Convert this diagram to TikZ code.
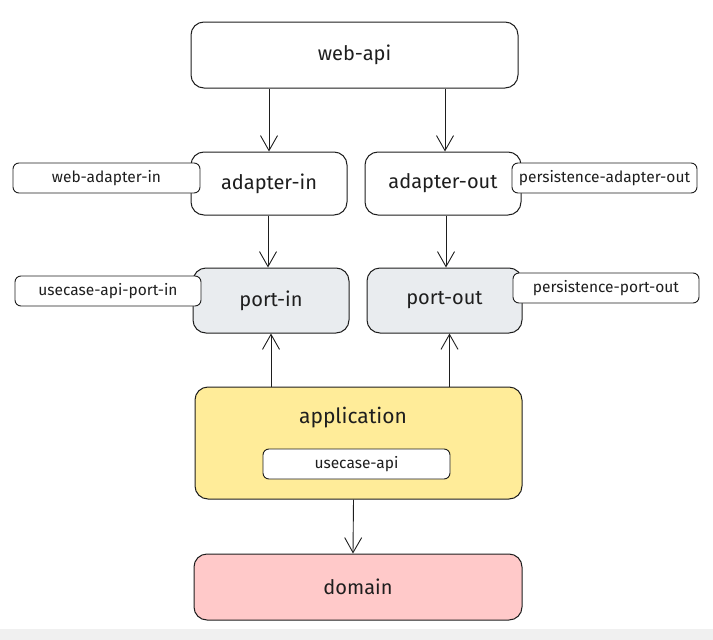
\documentclass[tikz,border=0pt]{standalone}
\usepackage{fontspec}
\setmainfont{Fira Sans}
\usetikzlibrary{arrows.meta}
\definecolor{ink}{HTML}{1E1E1E}
\definecolor{portgray}{HTML}{E9ECEF}
\definecolor{appyellow}{HTML}{FFEC99}
\definecolor{dompink}{HTML}{FFC9C9}
\tikzset{
  box/.style={draw=ink, line width=1pt, rounded corners=13pt, fill=white, inner sep=0pt,
    font=\fontsize{20}{22}\selectfont, text=ink},
  tag/.style={draw=ink, line width=0.9pt, rounded corners=6pt, fill=white, inner sep=0pt,
    minimum height=30pt, font=\fontsize{15.5}{17}\selectfont, text=ink},
  arr/.style={draw=ink, line width=0.9pt, -{Straight Barb[length=15pt,width=17pt,line width=0.9pt]}},
}
\begin{document}
\begin{tikzpicture}[x=1pt,y=-1pt]
\useasboundingbox (0,0) rectangle (713,640);
\fill[black!6] (0,629) rectangle (713,640);
% top
\node[box, minimum width=327pt, minimum height=66pt] (webapi) at (354.5,55) {web-api};
% adapters
\node[box, minimum width=156pt, minimum height=63pt] (adin) at (269,183.5) {adapter-in};
\node[box, minimum width=156pt, minimum height=63pt] (adout) at (443,183.5) {adapter-out};
\node[tag, minimum width=187pt] (webadin) at (106.5,178) {web-adapter-in};
\node[tag, minimum width=185pt] (persadout) at (604.5,178) {persistence-adapter-out};
% ports
\node[box, fill=portgray, minimum width=156pt, minimum height=65pt] (portin) at (271,300.5) {port-in};
\node[box, fill=portgray, minimum width=155pt, minimum height=65pt] (portout) at (444.5,300.5) {port-out};
\node[tag, minimum width=186pt] (ucportin) at (108,291) {usecase-api-port-in};
\node[tag, minimum width=186pt] (persportout) at (606,288) {persistence-port-out};
% application
\node[box, fill=appyellow, minimum width=327pt, minimum height=112pt] (app) at (358.5,443) {};
\node[font=\fontsize{21}{23}\selectfont, text=ink, inner sep=0pt] (applbl) at (353,418) {application};
\node[tag, minimum width=187pt] (ucapi) at (356.5,464) {usecase-api};
% domain
\node[box, fill=dompink, minimum width=328pt, minimum height=66pt] (domain) at (358,587) {domain};
% arrows
\draw[arr] (webapi.south -| adin.center) -- (adin.north);
\draw[arr] ([xshift=2pt]webapi.south -| adout.center) -- ([xshift=2pt]adout.north);
\draw[arr] ([xshift=-1pt]adin.south) -- ([xshift=-1pt]adin.south |- portin.north);
\draw[arr] ([xshift=3pt]adout.south) -- ([xshift=3pt]adout.south |- portout.north);
\draw[arr] (app.north -| portin.center) -- (portin.south);
\draw[arr] ([xshift=5pt]app.north -| portout.center) -- ([xshift=5pt]portout.south);
\draw[arr] ([xshift=-5pt]app.south) -- ([xshift=-5pt]domain.north);
\end{tikzpicture}
\end{document}
